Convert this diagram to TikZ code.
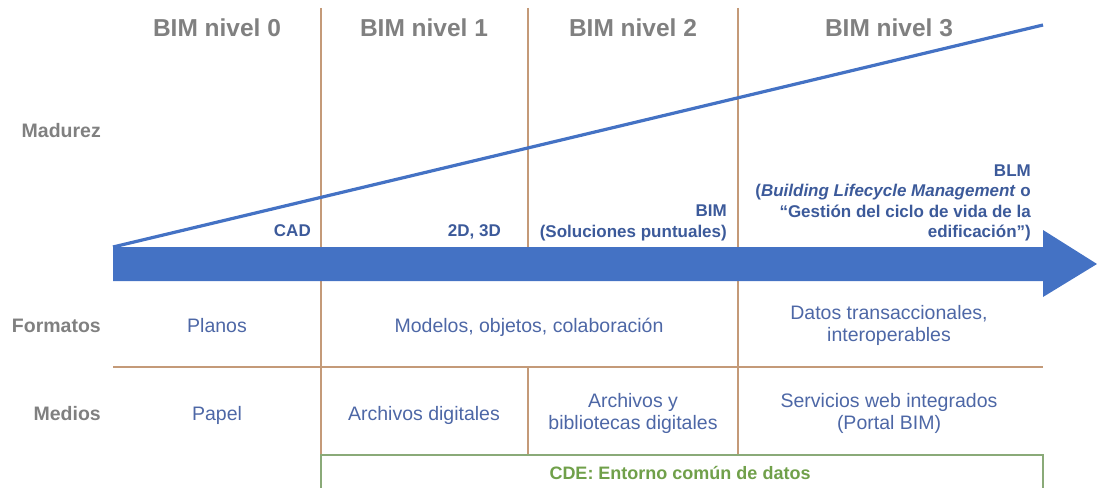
\documentclass[tikz,border=0pt]{standalone}
\usepackage{fontspec}
\setmainfont{Liberation Sans}
\definecolor{bandblue}{HTML}{4472C4}
\definecolor{linebrown}{HTML}{C49A78}
\definecolor{titlegray}{HTML}{808080}
\definecolor{labblue}{HTML}{3C5A9A}
\definecolor{cellblue}{HTML}{4D67A6}
\definecolor{cdegreen}{HTML}{70A04A}
\definecolor{boxgreen}{HTML}{8AAA78}
\tikzset{
  title/.style={font=\bfseries\fontsize{24.5}{28}\selectfont, text=titlegray, inner sep=0pt, anchor=base},
  rowlab/.style={font=\bfseries\fontsize{19.5}{22}\selectfont, text=titlegray, inner sep=0pt, anchor=base east},
  blab/.style={font=\bfseries\fontsize{17}{20.5}\selectfont, text=labblue, inner sep=0pt, align=right},
  cell/.style={font=\fontsize{19.5}{22}\selectfont, text=cellblue, inner sep=0pt, align=center},
  cde/.style={font=\bfseries\fontsize{18}{21}\selectfont, text=cdegreen, inner sep=0pt, anchor=base},
  sep/.style={draw=linebrown, line width=1.8pt},
  gbox/.style={draw=boxgreen, line width=1.8pt},
  diag/.style={draw=bandblue, line width=3.2pt},
  band/.style={fill=bandblue, draw=none}
}
\begin{document}
\begin{tikzpicture}[x=1pt,y=-1pt]
\useasboundingbox (0,0) rectangle (1097,487);
% coordinates
\coordinate (v1t) at (321,8);   \coordinate (v1b) at (321,455);
\coordinate (v2t) at (528,8);   \coordinate (v2m) at (528,247);
\coordinate (v2u) at (528,367); \coordinate (v2b) at (528,455);
\coordinate (v3t) at (738,8);   \coordinate (v3b) at (738,455);
\coordinate (hl) at (113,367);  \coordinate (hr) at (1043,367);
\coordinate (cl) at (321,455);  \coordinate (cr) at (1043,455);
\coordinate (cbl) at (321,495); \coordinate (cbr) at (1043,495);
\coordinate (ds) at (113,247);  \coordinate (de) at (1043,25);
% separators
\draw[sep] (v1t) -- (v1b);
\draw[sep] (v2t) -- (v2m);
\draw[sep] (v2u) -- (v2b);
\draw[sep] (v3t) -- (v3b);
\draw[sep] (hl) -- (hr);
% CDE box
\begin{scope}
\clip (0,0) rectangle (1097,487);
\draw[gbox] (cbl) -- (cl) -- (cr) -- (cbr);
\end{scope}
% maturity line
\draw[diag] (ds) -- (de);
% arrow band
\fill[band] (113,247) -- (1043,247) -- (1043,230) -- (1097,264) -- (1043,297) -- (1043,281) -- (113,281) -- cycle;
% titles
\node[title] (t0) at (217,37) {BIM nivel 0};
\node[title] (t1) at (424,37) {BIM nivel 1};
\node[title] (t2) at (633,37) {BIM nivel 2};
\node[title] (t3) at (889,37) {BIM nivel 3};
% row labels
\node[rowlab] (rm) at (101,137) {Madurez};
\node[rowlab] (rf) at (101,332) {Formatos};
\node[rowlab] (rd) at (101,420) {Medios};
% blue labels
\node[blab, anchor=base east] (cad) at (311,236) {CAD};
\node[blab, anchor=base east] (d23) at (501,236) {2D, 3D};
\node[blab, anchor=east] (bim) at (727,223) {BIM\\(Soluciones puntuales)};
\node[blab, anchor=east] (blm) at (1031,203) {BLM\\(\textit{Building Lifecycle Management} o\\“Gestión del ciclo de vida de la\\edificación”)};
% cells
\node[cell, anchor=base] (planos) at (217,332) {Planos};
\node[cell, anchor=base] (modelos) at (529,332) {Modelos, objetos, colaboración};
\node[cell] (datos) at (889,325) {Datos transaccionales,\\interoperables};
\node[cell, anchor=base] (papel) at (217,420) {Papel};
\node[cell, anchor=base] (arch) at (424,420) {Archivos digitales};
\node[cell] (bibl) at (633,413) {Archivos y\\bibliotecas digitales};
\node[cell] (serv) at (889,413) {Servicios web integrados\\(Portal BIM)};
% CDE
\node[cde] (cdelab) at (680,479) {CDE: Entorno común de datos};
\end{tikzpicture}
\end{document}
